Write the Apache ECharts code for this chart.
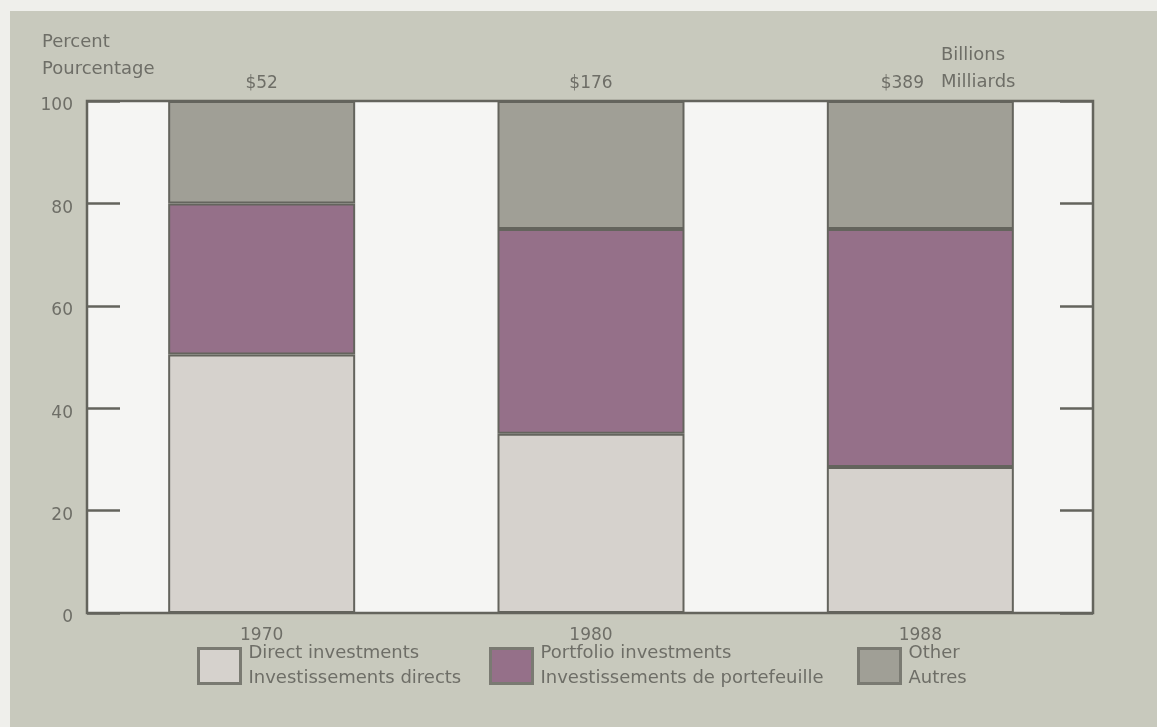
<!DOCTYPE html>
<html>
<head>
<meta charset="utf-8">
<title>Investment shares</title>
<script src="https://cdn.jsdelivr.net/npm/echarts@6/dist/echarts.min.js"></script>
<style>
  html, body { margin: 0; padding: 0; background: #efefeb; }
  #chart { width: 1157px; height: 727px; }
</style>
</head>
<body>
<div id="chart"></div>
<script>
// Years shown along the bottom
const categories = ['1970', '1980', '1988'];
// Total amounts (billions of dollars) printed above each bar
const totals = [52, 176, 389];
// Percentage shares per year
const directShare = [50.5, 35, 28.5];
const portfolioShare = [29.5, 40, 46.5];
const otherShare = [20, 25, 25];
// Legend texts (English / French)
const seriesNames = ['Direct', 'Portfolio', 'Other'];
const legendTexts = [
  'Direct investments\nInvestissements directs',
  'Portfolio investments\nInvestissements de portefeuille',
  'Other\nAutres'
];

const FONT = 'DejaVu Sans';
const TEXT = '#6e6e67';
const LINE = '#64645d';
const colors = ['#d6d2cd', '#957089', '#a09f96'];

const chart = echarts.init(document.getElementById('chart'), null, { renderer: 'canvas' });

const otherData = otherShare.map((v, i) => {
  const item = { value: v };
  if (i === 2) item.label = { offset: [-18, 0] };
  return item;
});

function legendAt(idx, left) {
  return {
    data: [seriesNames[idx]],
    left: left,
    top: 636,
    orient: 'horizontal',
    icon: 'rect',
    itemWidth: 42,
    itemHeight: 35,
    itemGap: 0,
    selectedMode: false,
    formatter: () => legendTexts[idx],
    itemStyle: { borderColor: '#7a7a72', borderWidth: 3 },
    textStyle: { fontFamily: FONT, fontSize: 18, color: TEXT, lineHeight: 25, padding: [0, 0, 0, 3] }
  };
}

const barBase = {
  type: 'bar',
  stack: 'share',
  barWidth: 187,
  xAxisIndex: 1,
  yAxisIndex: 2,
  animation: false
};

const tickAxis = (pos) => ({
  type: 'value',
  gridIndex: 0,
  min: 0, max: 100, interval: 20,
  position: pos,
  splitLine: { show: false },
  axisLine: { show: false, onZero: false },
  axisTick: { show: true, inside: true, length: 33, lineStyle: { color: LINE, width: 2.5 } },
  axisLabel: pos === 'left'
    ? {
        margin: 14, fontFamily: FONT, fontSize: 17, color: TEXT,
        formatter: '{v|{value}}',
        rich: { v: { fontFamily: FONT, fontSize: 17, color: TEXT, padding: [10, 0, 0, 0] } }
      }
    : { show: false }
});

chart.setOption({
  backgroundColor: '#c8c9bd',
  animation: false,
  grid: [
    // framed plotting area with the percentage scale
    {
      left: 87, top: 101, width: 1006, height: 512,
      show: true,
      backgroundColor: '#f5f5f3',
      borderColor: LINE,
      borderWidth: 2.5
    },
    // band layout for the three stacked bars
    { left: 97, top: 101, width: 988, height: 512 }
  ],
  xAxis: [
    { type: 'category', gridIndex: 0, data: categories, show: false },
    {
      type: 'category',
      gridIndex: 1,
      data: categories,
      axisLine: { show: false },
      axisTick: { show: false },
      axisLabel: { margin: 14, fontFamily: FONT, fontSize: 17, color: TEXT }
    }
  ],
  yAxis: [
    tickAxis('left'),
    tickAxis('right'),
    { type: 'value', gridIndex: 1, min: 0, max: 100, show: false }
  ],
  legend: [legendAt(0, 192), legendAt(1, 484), legendAt(2, 852)],
  series: [
    Object.assign({}, barBase, {
      name: seriesNames[0],
      data: directShare,
      itemStyle: { color: colors[0], borderColor: LINE, borderWidth: 2 }
    }),
    Object.assign({}, barBase, {
      name: seriesNames[1],
      data: portfolioShare,
      itemStyle: { color: colors[1], borderColor: LINE, borderWidth: 2 }
    }),
    Object.assign({}, barBase, {
      name: seriesNames[2],
      data: otherData,
      itemStyle: { color: colors[2], borderColor: LINE, borderWidth: 2 },
      label: {
        show: true,
        position: 'top',
        distance: 9,
        fontFamily: FONT, fontSize: 17, color: TEXT,
        formatter: (p) => '$' + totals[p.dataIndex]
      }
    })
  ],
  graphic: [
    { type: 'rect', silent: true, z: -10, shape: { x: 0, y: 0, width: 1157, height: 11 }, style: { fill: '#efefeb' } },
    { type: 'rect', silent: true, z: -10, shape: { x: 0, y: 0, width: 10, height: 727 }, style: { fill: '#efefeb' } },
    {
      type: 'text', left: 42, top: 29,
      style: { text: 'Percent\nPourcentage', fontFamily: FONT, fontSize: 18, lineHeight: 27, fill: TEXT }
    },
    {
      type: 'text', left: 941, top: 42,
      style: { text: 'Billions\nMilliards', fontFamily: FONT, fontSize: 18, lineHeight: 27, fill: TEXT }
    }
  ]
});
</script>
</body>
</html>
